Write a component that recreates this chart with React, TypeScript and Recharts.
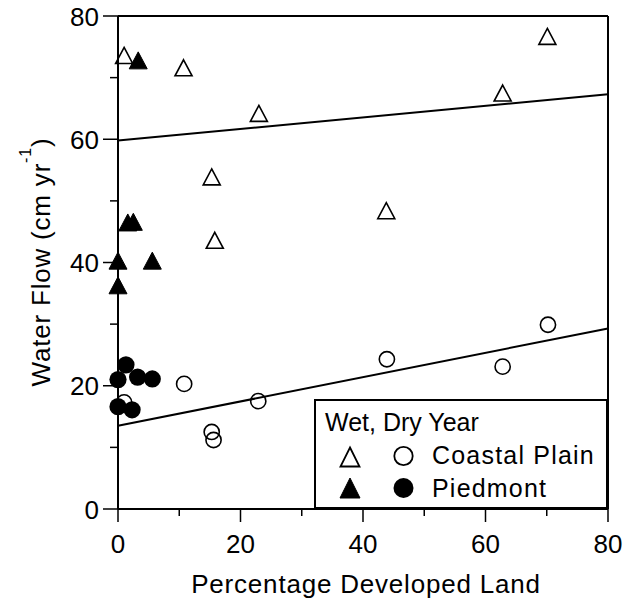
import React from "react";
import {
  ScatterChart,
  Scatter,
  XAxis,
  YAxis,
  ReferenceLine,
  Legend,
  Label,
} from "recharts";

// ---- data ----
const coastalWetX = [1.0, 10.7, 15.3, 15.8, 23.0, 43.8, 62.8, 70.1];
const coastalWetY = [73.6, 71.6, 53.9, 43.6, 64.2, 48.4, 67.5, 76.7];
const piedmontWetX = [0, 0, 1.6, 2.5, 3.3, 5.6];
const piedmontWetY = [40.3, 36.3, 46.5, 46.6, 72.8, 40.3];
const coastalDryX = [1.0, 10.8, 15.3, 15.6, 22.9, 43.9, 62.8, 70.2];
const coastalDryY = [17.3, 20.3, 12.5, 11.2, 17.5, 24.3, 23.1, 29.9];
const piedmontDryX = [0, 0, 1.3, 2.3, 3.2, 5.6];
const piedmontDryY = [21.0, 16.6, 23.4, 16.1, 21.4, 21.1];
const fitX = [0, 80];
const wetFitY = [59.8, 67.3];
const dryFitY = [13.5, 29.3];
const axisTicks = [0, 10, 20, 30, 40, 50, 60, 70, 80];
const legendTitle = "Wet, Dry Year";
const legendLabels = ["Coastal Plain", "Piedmont"];
const xTitle = "Percentage Developed Land";

const zip = (xs: number[], ys: number[]) => xs.map((x, i) => ({ x, y: ys[i] }));

const FONT = "'Liberation Sans', Arial, Helvetica, sans-serif";

const triPath = (cx: number, cy: number, w: number, h: number) =>
  `M${cx},${cy - h / 2} L${cx + w / 2},${cy + h / 2} L${cx - w / 2},${cy + h / 2} Z`;

const OpenTri = (p: any) => (
  <path d={triPath(p.cx, p.cy, 17, 16)} fill="none" stroke="#000" strokeWidth={1.6} strokeLinejoin="miter" />
);
const FilledTri = (p: any) => (
  <path d={triPath(p.cx, p.cy, 18, 17)} fill="#000" stroke="#000" strokeWidth={1} />
);
const OpenCircle = (p: any) => (
  <circle cx={p.cx} cy={p.cy} r={7.6} fill="none" stroke="#000" strokeWidth={1.6} />
);
const FilledCircle = (p: any) => <circle cx={p.cx} cy={p.cy} r={8.6} fill="#000" />;

const YTick = (props: any) => {
  const { x, y, payload } = props;
  const major = payload.value % 20 === 0;
  return (
    <g>
      <line x1={x - (major ? 15 : 8)} x2={x} y1={y} y2={y} stroke="#000" strokeWidth={1.5} />
      {major && (
        <text x={x - 19} y={y + 9.5} textAnchor="end" fontSize={26} fontFamily={FONT} fill="#000">
          {payload.value}
        </text>
      )}
    </g>
  );
};

const XTick = (props: any) => {
  const { x, y, payload } = props;
  const major = payload.value % 20 === 0;
  return (
    <g>
      <line x1={x} x2={x} y1={y} y2={y + (major ? 13 : 7)} stroke="#000" strokeWidth={1.5} />
      {major && (
        <text x={x} y={y + 44} textAnchor="middle" fontSize={26} fontFamily={FONT} fill="#000">
          {payload.value}
        </text>
      )}
    </g>
  );
};

const LegendBox = () => (
  <div
    style={{
      width: 294,
      height: 110,
      boxSizing: "border-box",
      border: "2px solid #000",
      background: "#fff",
    }}
  >
    <svg width={290} height={106} style={{ display: "block" }}>
      <text x={9} y={30} fontSize={25} fontFamily={FONT} fill="#000">
        {legendTitle}
      </text>
      <path d={triPath(34, 56, 19, 19)} fill="none" stroke="#000" strokeWidth={1.8} />
      <circle cx={87.5} cy={55} r={9.2} fill="none" stroke="#000" strokeWidth={1.8} />
      <text x={116} y={63} fontSize={25} letterSpacing={1.2} fontFamily={FONT} fill="#000">
        {legendLabels[0]}
      </text>
      <path d={triPath(34, 87, 20, 20)} fill="#000" stroke="#000" strokeWidth={1} />
      <circle cx={87.5} cy={87} r={10} fill="#000" />
      <text x={116} y={96} fontSize={25} letterSpacing={1.2} fontFamily={FONT} fill="#000">
        {legendLabels[1]}
      </text>
    </svg>
  </div>
);

export default function App() {
  return (
    <div style={{ position: "absolute", left: 0, top: 0, background: "#fff" }}>
      <ScatterChart
        width={631}
        height={601}
        margin={{ top: 16, right: 23, bottom: 32, left: 0 }}
      >
        <XAxis
          type="number"
          dataKey="x"
          domain={[0, 80]}
          ticks={axisTicks}
          interval={0}
          tickSize={0}
          tickMargin={0}
          tickLine={false}
          tick={<XTick />}
          height={60}
          axisLine={{ stroke: "#000", strokeWidth: 2 }}
        >
          <Label
            content={() => (
              <text
                x={366}
                y={593}
                textAnchor="middle"
                fontSize={26}
                letterSpacing={0.8}
                fontFamily={FONT}
                fill="#000"
              >
                {xTitle}
              </text>
            )}
          />
        </XAxis>
        <YAxis
          type="number"
          dataKey="y"
          domain={[0, 80]}
          ticks={axisTicks}
          interval={0}
          tickSize={0}
          tickMargin={0}
          tickLine={false}
          tick={<YTick />}
          width={118}
          axisLine={{ stroke: "#000", strokeWidth: 2 }}
        >
          <Label
            content={() => (
              <text
                transform="translate(50,262) rotate(-90)"
                textAnchor="middle"
                fontSize={26}
                letterSpacing={0.8}
                fontFamily={FONT}
                fill="#000"
              >
                Water Flow (cm yr
                <tspan dy={-19} fontSize={16}>-1</tspan>
                <tspan dy={19}>)</tspan>
              </text>
            )}
          />
        </YAxis>
        <ReferenceLine y={80} stroke="#000" strokeWidth={2} />
        <ReferenceLine x={80} stroke="#000" strokeWidth={2} />
        <Scatter data={zip(coastalWetX, coastalWetY)} shape={OpenTri} isAnimationActive={false} />
        <Scatter data={zip(coastalDryX, coastalDryY)} shape={OpenCircle} isAnimationActive={false} />
        <Scatter data={zip(piedmontWetX, piedmontWetY)} shape={FilledTri} isAnimationActive={false} />
        <Scatter data={zip(piedmontDryX, piedmontDryY)} shape={FilledCircle} isAnimationActive={false} />
        <ReferenceLine
          segment={[
            { x: fitX[0], y: wetFitY[0] },
            { x: fitX[1], y: wetFitY[1] },
          ]}
          stroke="#000"
          strokeWidth={2}
        />
        <ReferenceLine
          segment={[
            { x: fitX[0], y: dryFitY[0] },
            { x: fitX[1], y: dryFitY[1] },
          ]}
          stroke="#000"
          strokeWidth={2}
        />
        <Legend
          layout="vertical"
          align="center"
          verticalAlign="middle"
          content={() => <LegendBox />}
          wrapperStyle={{ left: 314, top: 399, width: 294, height: 110 }}
        />
      </ScatterChart>
    </div>
  );
}
